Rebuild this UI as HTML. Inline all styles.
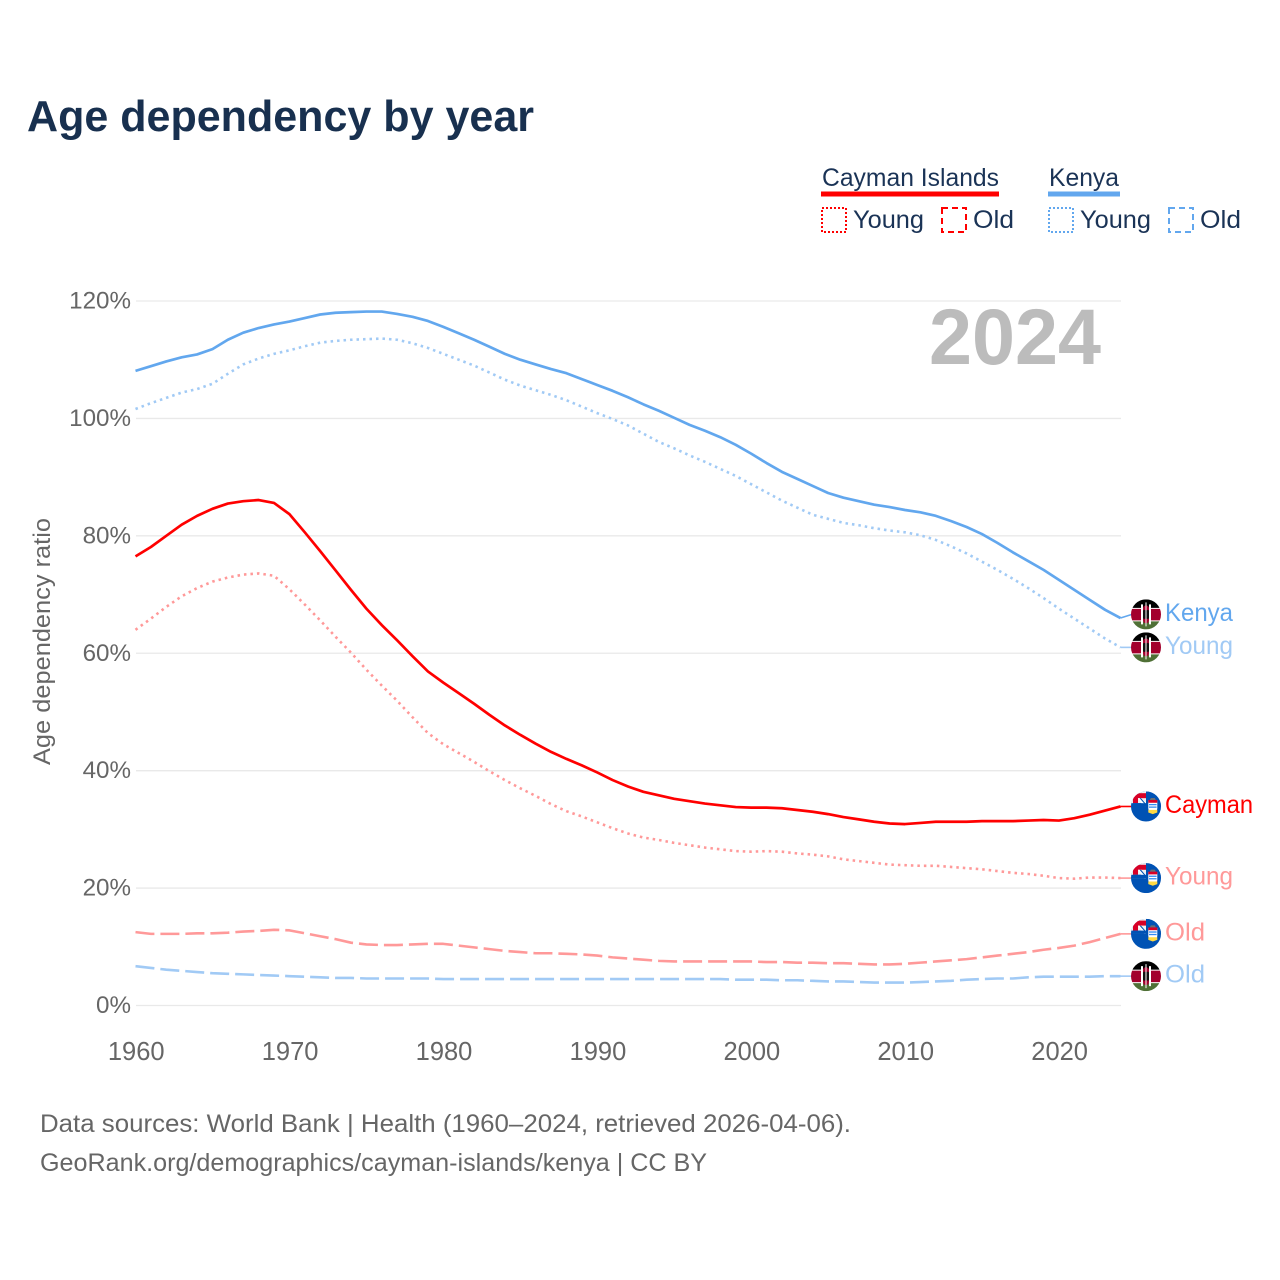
<!DOCTYPE html>
<html lang="en">
<head>
<meta charset="utf-8">
<title>Age dependency by year</title>
<style>
html,body{margin:0;padding:0;background:#fff;width:1280px;height:1280px;overflow:hidden}
svg{display:block;font-family:"Liberation Sans",sans-serif}
</style>
</head>
<body>
<svg id="chart" xmlns="http://www.w3.org/2000/svg" width="1280" height="1280" viewBox="0 0 1280 1280">
  <defs>
    <clipPath id="flag-clip"><circle cx="0" cy="0" r="15"/></clipPath>
    <g id="flag-kenya" clip-path="url(#flag-clip)">
      <rect x="-15" y="-15" width="30" height="30" fill="#fff"/>
      <rect x="-15" y="-15" width="30" height="8.5" fill="#000"/>
      <rect x="-15" y="-5.5" width="30" height="11.5" fill="#a3002d"/>
      <rect x="-15" y="7" width="30" height="8" fill="#4f7036"/>
      <rect x="-5" y="-10" width="2" height="20" fill="#fff"/>
      <rect x="3" y="-10" width="2" height="20" fill="#fff"/>
      <rect x="-3" y="-9" width="6" height="18" rx="3" fill="#a3002d"/>
      <rect x="-3" y="-4.5" width="2.6" height="9" rx="1.3" fill="#111"/>
      <rect x="0.4" y="-4.5" width="2.6" height="9" rx="1.3" fill="#111"/>
      <rect x="-0.5" y="-12" width="1" height="24" fill="#fff"/>
    </g>
    <g id="flag-cayman" clip-path="url(#flag-clip)">
      <rect x="-15" y="-15" width="30" height="30" fill="#0052b4"/>
      <rect x="-15" y="-15" width="15" height="15" fill="#f0f0f0"/>
      <rect x="-14" y="-13.3" width="14" height="5" fill="#d80027"/>
      <rect x="-13" y="-13.3" width="5" height="10" fill="#d80027"/>
      <path d="M-8,-8.3L-4.5,-8.3L0,-3.5L0,0L-2,0Z" fill="#fff"/>
      <path d="M-6.5,-8.3L-5,-8.3L0,-2.5L0,-1Z" fill="#0052b4"/>
      <rect x="-15" y="-3.3" width="15" height="3.3" fill="#0052b4"/>
      <path d="M-13,-3.3L-5,-3.3L-2,0L-15,0Z" fill="#0052b4"/>
      <rect x="0" y="-15" width="15" height="15" fill="#0052b4"/>
      <path d="M2.3,-6H11.3V2Q11.3,5.5 6.8,6.6Q2.3,5.5 2.3,2Z" fill="#fff"/>
      <rect x="2.3" y="-6.5" width="9" height="2.8" fill="#d80027"/>
      <path d="M4.8,-8.5H8.8L9.8,-6.5H3.8Z" fill="#6d6e71"/>
      <rect x="3" y="-2.5" width="7.6" height="1.3" fill="#338af3"/>
      <rect x="3" y="0" width="7.6" height="1.3" fill="#338af3"/>
      <path d="M2.3,3.4L11.3,3.4L11.3,6L6.8,7.6L2.3,6Z" fill="#ffda44"/>
    </g>
  </defs>

  <rect x="0" y="0" width="1280" height="1280" fill="#ffffff"/>

  <text x="27" y="131" font-size="44" font-weight="700" fill="#18304f" textLength="507" lengthAdjust="spacingAndGlyphs">Age dependency by year</text>

  <g font-size="25" fill="#1a3356">
    <text x="822" y="186" textLength="177" lengthAdjust="spacingAndGlyphs">Cayman Islands</text>
    <rect x="821" y="191.5" width="178" height="5" fill="#ff0000"/>
    <text x="1049" y="186" textLength="70" lengthAdjust="spacingAndGlyphs">Kenya</text>
    <rect x="1048" y="191.5" width="72" height="5" fill="#62a7ee"/>

    <rect x="822" y="208" width="24" height="24" fill="none" stroke="#ff0000" stroke-width="2" stroke-dasharray="2 2"/>
    <text x="853" y="228" textLength="71" lengthAdjust="spacingAndGlyphs">Young</text>
    <rect x="942" y="208" width="24" height="24" fill="none" stroke="#ff0000" stroke-width="2" stroke-dasharray="6 4"/>
    <text x="973" y="228" textLength="41" lengthAdjust="spacingAndGlyphs">Old</text>
    <rect x="1049" y="208" width="24" height="24" fill="none" stroke="#62a7ee" stroke-width="2" stroke-dasharray="2 2"/>
    <text x="1080" y="228" textLength="71" lengthAdjust="spacingAndGlyphs">Young</text>
    <rect x="1169" y="208" width="24" height="24" fill="none" stroke="#62a7ee" stroke-width="2" stroke-dasharray="6 4"/>
    <text x="1200" y="228" textLength="41" lengthAdjust="spacingAndGlyphs">Old</text>
  </g>

  <text transform="translate(50,765) rotate(-90)" x="0" y="0" font-size="24" fill="#666666" textLength="247" lengthAdjust="spacingAndGlyphs">Age dependency ratio</text>

  <g id="grid"></g>
  <g id="y-ticks"></g>
  <g id="x-ticks"></g>

  <text x="929" y="364" font-size="79" font-weight="700" fill="#bcbcbc" textLength="172" lengthAdjust="spacingAndGlyphs">2024</text>

  <g id="series"></g>
  <g id="end-labels"></g>

  <g font-size="25" fill="#666666">
    <text x="40" y="1132" textLength="811" lengthAdjust="spacingAndGlyphs">Data sources: World Bank | Health (1960–2024, retrieved 2026-04-06).</text>
    <text x="40" y="1171" textLength="667" lengthAdjust="spacingAndGlyphs">GeoRank.org/demographics/cayman-islands/kenya | CC BY</text>
  </g>
</svg>

<script>
var startYear = 1960;
var endYear = 2024;
var yTickValues = [0, 20, 40, 60, 80, 100, 120];
var xTickValues = [1960, 1970, 1980, 1990, 2000, 2010, 2020];

var kenyaTotal = [
  108.1,108.9,109.7,110.4,110.9,111.8,113.4,114.6,115.4,116.0,
  116.5,117.1,117.7,118.0,118.1,118.2,118.2,117.8,117.3,116.6,
  115.6,114.5,113.4,112.2,111.0,110.0,109.2,108.4,107.7,106.7,
  105.7,104.7,103.6,102.4,101.3,100.1,98.9,97.9,96.8,95.5,
  94.0,92.4,90.9,89.7,88.5,87.3,86.5,85.9,85.3,84.9,
  84.4,84.0,83.4,82.5,81.5,80.3,78.8,77.2,75.7,74.2,
  72.5,70.8,69.1,67.4,66.0
];
var kenyaYoung = [
  101.6,102.6,103.5,104.4,105.0,105.9,107.6,109.2,110.2,111.0,
  111.6,112.3,112.9,113.2,113.4,113.5,113.6,113.4,112.8,112.0,
  111.0,110.0,109.0,107.8,106.6,105.6,104.8,104.0,103.1,102.0,
  100.9,99.9,98.8,97.4,96.0,94.9,93.7,92.6,91.4,90.2,
  88.8,87.4,86.0,84.8,83.6,82.9,82.2,81.8,81.3,80.9,
  80.6,80.1,79.3,78.2,77.0,75.6,74.2,72.7,71.1,69.4,
  67.6,65.9,64.2,62.5,61.0
];
var kenyaOld = [
  6.7,6.4,6.1,5.9,5.7,5.5,5.4,5.3,5.2,5.1,
  5.0,4.9,4.8,4.7,4.7,4.6,4.6,4.6,4.6,4.6,
  4.5,4.5,4.5,4.5,4.5,4.5,4.5,4.5,4.5,4.5,
  4.5,4.5,4.5,4.5,4.5,4.5,4.5,4.5,4.5,4.4,
  4.4,4.4,4.3,4.3,4.2,4.1,4.1,4.0,3.9,3.9,
  3.9,4.0,4.1,4.2,4.4,4.5,4.6,4.6,4.8,4.9,
  4.9,4.9,4.9,5.0,5.0
];
var caymanTotal = [
  76.5,78.1,80.0,81.9,83.4,84.6,85.5,85.9,86.1,85.6,
  83.7,80.6,77.4,74.1,70.8,67.6,64.8,62.2,59.5,56.9,
  55.0,53.2,51.4,49.5,47.7,46.1,44.6,43.2,42.0,40.9,
  39.7,38.4,37.3,36.4,35.8,35.2,34.8,34.4,34.1,33.8,
  33.7,33.7,33.6,33.3,33.0,32.6,32.1,31.7,31.3,31.0,
  30.9,31.1,31.3,31.3,31.3,31.4,31.4,31.4,31.5,31.6,
  31.5,31.9,32.5,33.2,33.9
];
var caymanYoung = [
  64.0,65.9,67.9,69.7,71.1,72.2,72.9,73.4,73.6,73.2,
  70.9,68.3,65.6,62.8,60.1,57.2,54.5,51.9,49.1,46.4,
  44.5,43.0,41.5,39.9,38.4,37.0,35.7,34.3,33.1,32.2,
  31.2,30.2,29.3,28.6,28.2,27.7,27.3,26.9,26.6,26.3,
  26.2,26.3,26.2,25.9,25.7,25.4,24.9,24.6,24.3,24.0,
  23.9,23.8,23.8,23.6,23.4,23.2,22.9,22.6,22.4,22.1,
  21.7,21.6,21.8,21.8,21.7
];
var caymanOld = [
  12.5,12.2,12.2,12.2,12.3,12.3,12.4,12.6,12.7,12.9,
  12.8,12.3,11.8,11.3,10.7,10.4,10.3,10.3,10.4,10.5,
  10.5,10.2,9.9,9.6,9.3,9.1,8.9,8.9,8.8,8.7,
  8.5,8.2,8.0,7.8,7.6,7.5,7.5,7.5,7.5,7.5,
  7.5,7.4,7.4,7.3,7.3,7.2,7.2,7.1,7.0,7.0,
  7.1,7.3,7.5,7.7,7.9,8.2,8.5,8.8,9.1,9.5,
  9.8,10.2,10.8,11.5,12.2
];

var NS = 'http://www.w3.org/2000/svg';
function xScale(year) { return 135.5 + (year - startYear) * (1120.5 - 135.5) / (endYear - startYear); }
function yScale(v) { return 1005.5 - v * (1005.5 - 301) / 120; }
function make(tag, attrs, parent) {
  var el = document.createElementNS(NS, tag);
  for (var k in attrs) el.setAttribute(k, attrs[k]);
  parent.appendChild(el);
  return el;
}

var gridG = document.getElementById('grid');
var yG = document.getElementById('y-ticks');
yTickValues.forEach(function (v) {
  var line = make('line', { x1: 136, x2: 1121, y1: yScale(v), y2: yScale(v), stroke: '#e9e9e9', 'stroke-width': 1.3 }, gridG);
  
  
  var t = make('text', { x: 131, y: yScale(v) + 7.5, 'text-anchor': 'end', 'font-size': 24.2, fill: '#666666' }, yG);
  
  
  t.textContent = v + '%';
});

var xG = document.getElementById('x-ticks');
xTickValues.forEach(function (yr) {
  var t = make('text', { x: xScale(yr) + 0.7, y: 1060, 'text-anchor': 'middle', 'font-size': 25.5, fill: '#666666' }, xG);
  
  
  t.textContent = yr;
});

var seriesList = [
  { key: 'kenya-old', values: kenyaOld, color: '#a1caf5', width: 2.6, dash: '19 6', label: 'Old', labelLen: 40, flag: 'flag-kenya' },
  { key: 'cayman-old', values: caymanOld, color: '#ff9999', width: 2.6, dash: '19 6', label: 'Old', labelLen: 40, flag: 'flag-cayman' },
  { key: 'cayman-young', values: caymanYoung, color: '#ff9999', width: 2.6, dash: '2.5 4', label: 'Young', labelLen: 68, flag: 'flag-cayman' },
  { key: 'cayman-total', values: caymanTotal, color: '#ff0000', width: 2.7, dash: '', label: 'Cayman', labelLen: 88, flag: 'flag-cayman' },
  { key: 'kenya-young', values: kenyaYoung, color: '#a1caf5', width: 2.6, dash: '2.5 4', label: 'Young', labelLen: 68, flag: 'flag-kenya' },
  { key: 'kenya-total', values: kenyaTotal, color: '#62a7ee', width: 2.7, dash: '', label: 'Kenya', labelLen: 68, flag: 'flag-kenya' }
];

// End labels sit at their final value, nudged apart so neighbours do not overlap.
var minGap = 33;
seriesList.forEach(function (s) {
  s.endY = yScale(s.values[s.values.length - 1]);
  s.labelY = s.endY;
});
var sortedByY = seriesList.slice().sort(function (a, b) { return b.endY - a.endY; });
for (var i = 1; i < sortedByY.length; i++) {
  var lower = sortedByY[i - 1], upper = sortedByY[i];
  if (lower.labelY - upper.labelY < minGap) upper.labelY = lower.labelY - minGap;
}

var seriesG = document.getElementById('series');
var labelsG = document.getElementById('end-labels');
seriesList.forEach(function (s) {
  var pts = s.values.map(function (v, i) {
    return xScale(startYear + i).toFixed(2) + ',' + yScale(v).toFixed(2);
  });
  var attrs = { points: pts.join(' '), fill: 'none', stroke: s.color, 'stroke-width': s.width, 'stroke-linejoin': 'round' };
  if (s.dash) attrs['stroke-dasharray'] = s.dash;
  var line = make('polyline', attrs, seriesG);
  
  

  var leader = make('line', { x1: xScale(endYear), y1: s.endY, x2: 1132, y2: s.labelY, stroke: s.color, 'stroke-width': 1.6 }, labelsG);
  
  

  var flag = make('use', { href: '#' + s.flag, transform: 'translate(1146,' + s.labelY + ')' }, labelsG);
  
  

  var t = make('text', { x: 1165, y: s.labelY + 6.5, 'font-size': 25, fill: s.color, textLength: s.labelLen, lengthAdjust: 'spacingAndGlyphs' }, labelsG);
  
  
  t.textContent = s.label;
});
</script>
</body>
</html>
